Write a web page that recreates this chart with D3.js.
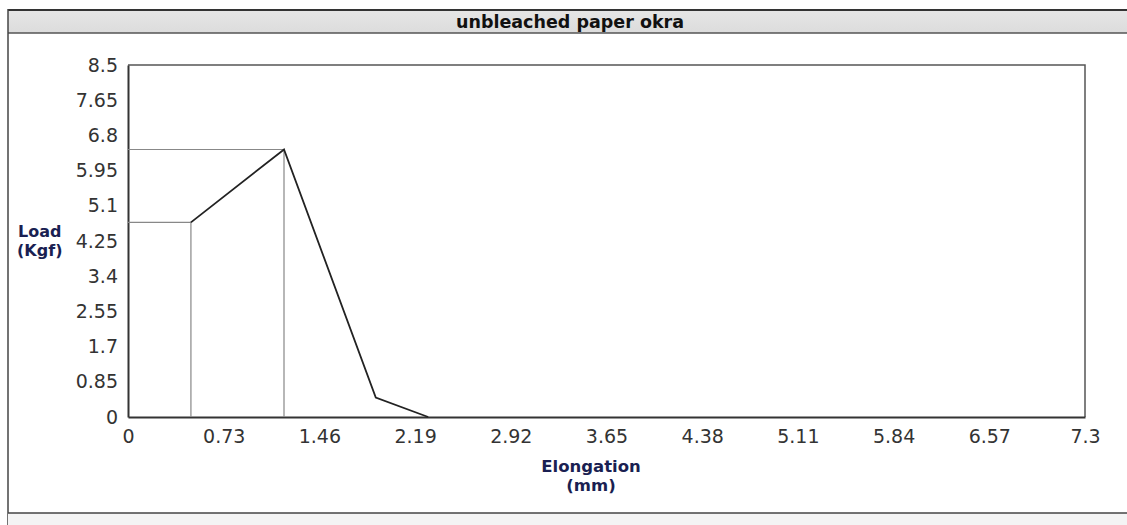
<!DOCTYPE html>
<html>
<head>
<meta charset="utf-8">
<script src="https://cdn.jsdelivr.net/npm/d3@7"></script>
<style>
  body { margin: 0; background: #fff; }
  svg { display: block; }
</style>
</head>
<body>
<svg id="chart" width="1127" height="525"></svg>
<script>
// data
const elongation = [0.48, 1.19, 1.89, 2.29];
const load = [4.7, 6.46, 0.47, 0];
const markedPoints = [0, 1]; // points with drop lines to the axes
const xTicks = [0, 0.73, 1.46, 2.19, 2.92, 3.65, 4.38, 5.11, 5.84, 6.57, 7.3];
const yTicks = [0, 0.85, 1.7, 2.55, 3.4, 4.25, 5.1, 5.95, 6.8, 7.65, 8.5];

const title = "unbleached paper okra";

const svg = d3.select("#chart");
const font = "'DejaVu Sans', Verdana, sans-serif";

// outer frame + header band
const grad = svg.append("defs").append("linearGradient")
    .attr("id", "hdr").attr("x1", 0).attr("y1", 0).attr("x2", 0).attr("y2", 1);
grad.append("stop").attr("offset", "0%").attr("stop-color", "#e6e6e6");
grad.append("stop").attr("offset", "100%").attr("stop-color", "#dcdcdc");

svg.append("rect").attr("x", 8).attr("y", 10).attr("width", 1127).attr("height", 23)
    .attr("fill", "url(#hdr)");
svg.append("line").attr("x1", 8).attr("x2", 1127).attr("y1", 10).attr("y2", 10)
    .attr("stroke", "#333").attr("stroke-width", 2);
svg.append("line").attr("x1", 8).attr("x2", 1127).attr("y1", 33).attr("y2", 33)
    .attr("stroke", "#555").attr("stroke-width", 1.5);
svg.append("line").attr("x1", 8).attr("x2", 8).attr("y1", 9).attr("y2", 525)
    .attr("stroke", "#444").attr("stroke-width", 1.5);
svg.append("rect").attr("x", 8).attr("y", 513).attr("width", 1127).attr("height", 12)
    .attr("fill", "#f4f4f4");
svg.append("line").attr("x1", 8).attr("x2", 1127).attr("y1", 513).attr("y2", 513)
    .attr("stroke", "#444").attr("stroke-width", 1.5);

svg.append("text").attr("x", 570).attr("y", 28)
    .attr("text-anchor", "middle")
    .style("font-family", font).style("font-size", "17.5px").style("font-weight", "bold")
    .attr("fill", "#111")
    .text(title);

// plot area
const pLeft = 128, pRight = 1085, pTop = 65, pBottom = 417;
const x = d3.scaleLinear().domain([0, 7.3]).range([pLeft, pRight]);
const y = d3.scaleLinear().domain([0, 8.5]).range([pBottom, pTop]);

const g = svg.append("g");

// frame top / right
g.append("path")
    .attr("d", `M${pLeft},${pTop}H${pRight}V${pBottom}`)
    .attr("fill", "none").attr("stroke", "#555").attr("stroke-width", 1.5);

// x axis
const xAxis = g.append("g").attr("transform", `translate(0,${pBottom})`)
    .call(d3.axisBottom(x).tickValues(xTicks).tickSize(0).tickPadding(13)
        .tickFormat(d => String(d)));
xAxis.select(".domain").attr("stroke", "#333").attr("stroke-width", 2);
xAxis.selectAll("text").style("font-family", font).style("font-size", "19px").attr("fill", "#333");

// y axis
const yAxis = g.append("g").attr("transform", `translate(${pLeft},0)`)
    .call(d3.axisLeft(y).tickValues(yTicks).tickSize(0).tickPadding(10)
        .tickFormat(d => String(d)));
yAxis.select(".domain").attr("stroke", "#333").attr("stroke-width", 2);
yAxis.selectAll("text").style("font-family", font).style("font-size", "19px").attr("fill", "#333");

// drop lines for marked points
markedPoints.forEach(i => {
    g.append("path")
        .attr("d", `M${x(0)},${y(load[i])}H${x(elongation[i])}V${y(0)}`)
        .attr("fill", "none").attr("stroke", "#888").attr("stroke-width", 1.2);
});

// curve
const line = d3.line().x((d, i) => x(elongation[i])).y(d => y(d));
g.append("path").datum(load)
    .attr("d", line)
    .attr("fill", "none").attr("stroke", "#222").attr("stroke-width", 1.8);

// axis titles
const navy = "#1a1f52";
const yl = svg.append("text")
    .style("font-family", font).style("font-size", "16px").style("font-weight", "bold")
    .attr("fill", navy);
yl.append("tspan").attr("x", 18).attr("y", 237).text("Load");
yl.append("tspan").attr("x", 17).attr("y", 256).text("(Kgf)");

const xl = svg.append("text").attr("text-anchor", "middle")
    .style("font-family", font).style("font-size", "16.5px").style("font-weight", "bold")
    .attr("fill", navy);
xl.append("tspan").attr("x", 591).attr("y", 472).text("Elongation");
xl.append("tspan").attr("x", 591).attr("y", 491).text("(mm)");
</script>
</body>
</html>
